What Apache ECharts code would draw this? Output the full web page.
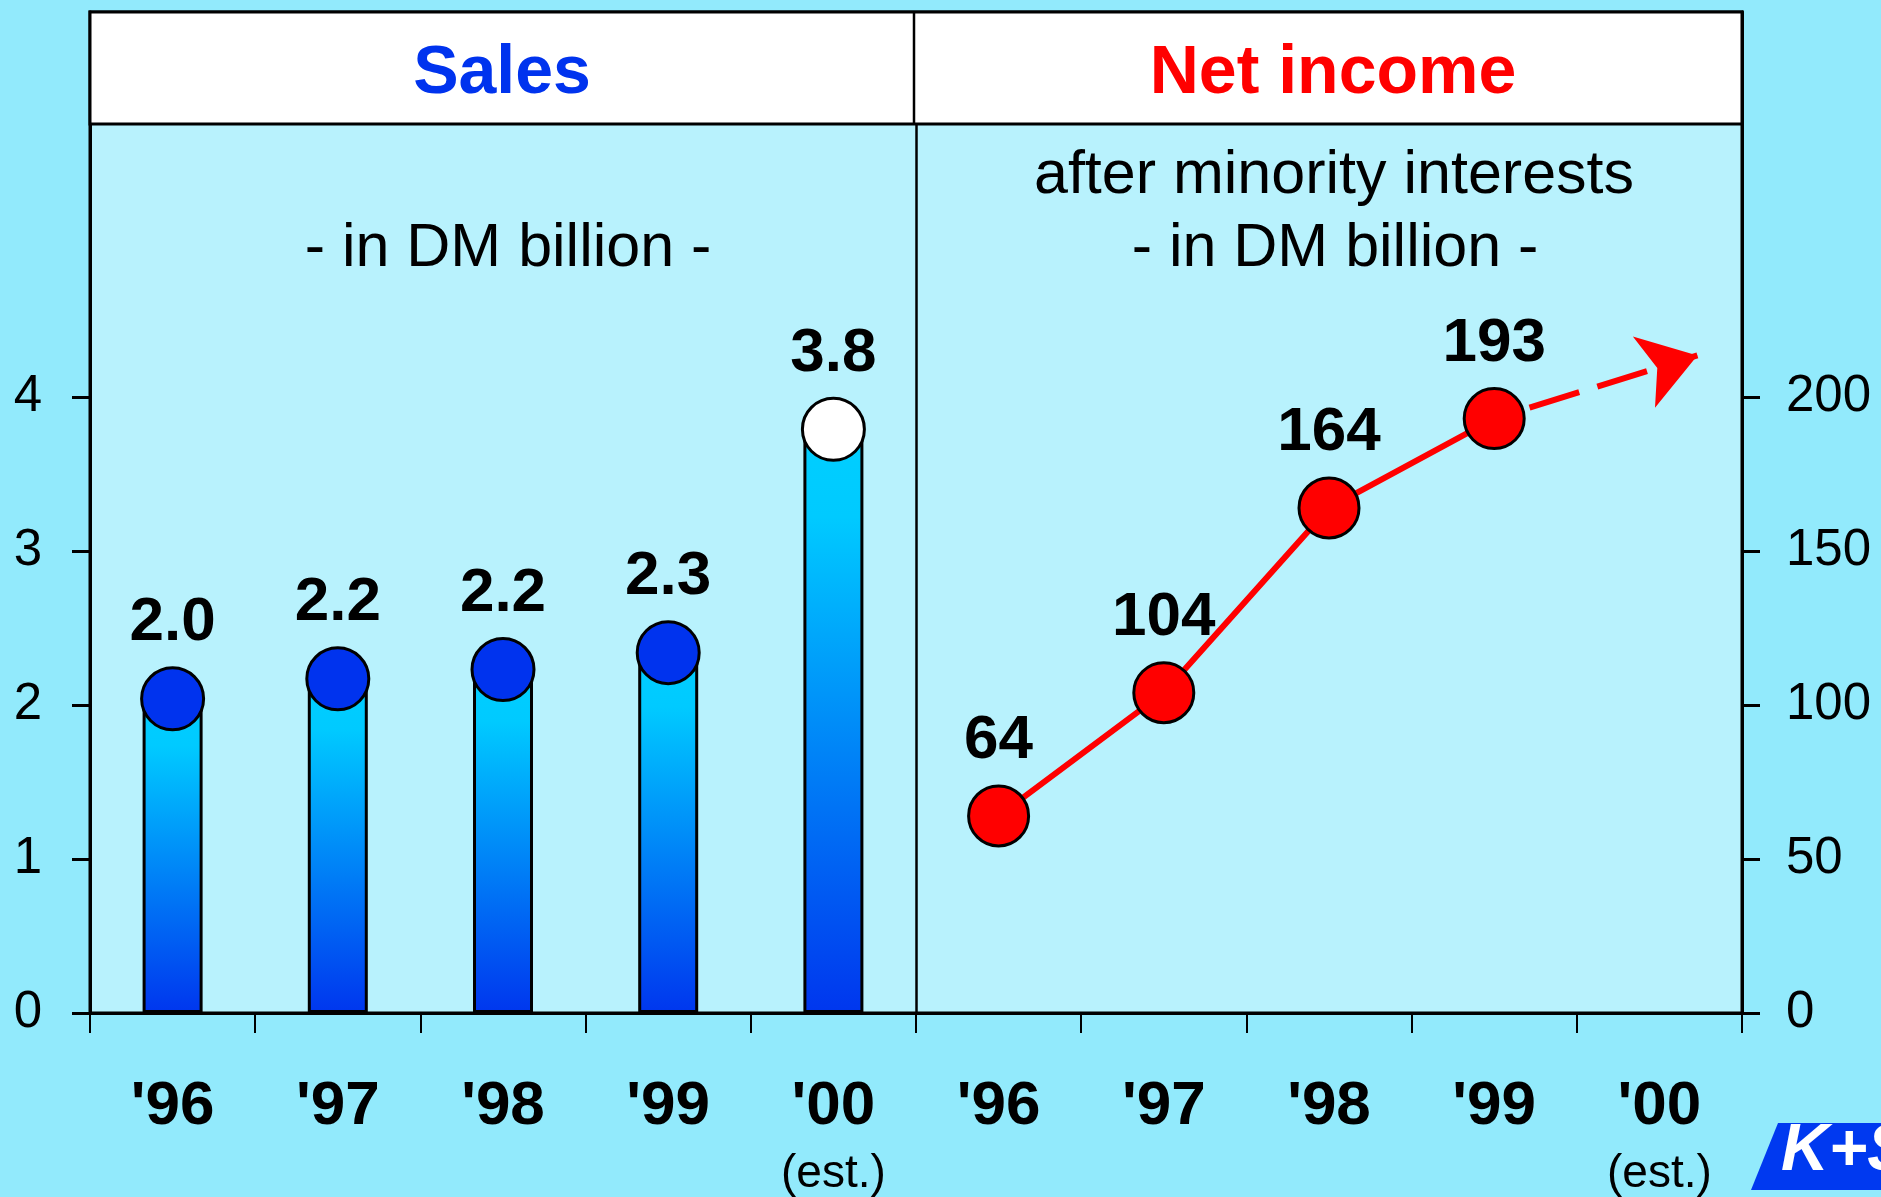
<!DOCTYPE html>
<html>
<head>
<meta charset="utf-8">
<title>Sales / Net income</title>
<script src="https://cdn.jsdelivr.net/npm/echarts@6/dist/echarts.min.js"></script>
<style>
  html, body { margin: 0; padding: 0; background: #92EAFC; }
  #chart { width: 1881px; height: 1197px; }
</style>
</head>
<body>
<div id="chart"></div>
<script>
// data
const years = ["'96", "'97", "'98", "'99", "'00"];
const estimateYear = "'00";
const salesValues = [2.04, 2.17, 2.23, 2.34, 3.79];   // DM billion
const incomeValues = [64, 104, 164, 193];             // net income, '96-'99
const incomeTrendEnd = [9.23, 213.5];                 // arrow tip ('00 estimate trend)
const salesTicks = [0, 1, 2, 3, 4];
const incomeTicks = [0, 50, 100, 150, 200];

// both panels share one category axis: 5 years sales + 5 years income
const categories = years.concat(years);
const empty = years.map(() => '-');
const salesData = salesValues.concat(empty);
const incomeData = empty.concat(incomeValues, ['-'].slice(0, years.length - incomeValues.length));
const lastIncome = [years.length + incomeValues.length - 1, incomeValues[incomeValues.length - 1]];
const panelSplit = years.length - 0.5;

const FONT = '"Liberation Sans", Arial, Helvetica, sans-serif';
const BLUE = '#0033EE';
const RED = '#FF0000';

let myChart = echarts.init(document.getElementById('chart'), null, { renderer: 'canvas' });

let option = {
  animation: false,
  backgroundColor: '#92EAFC',
  textStyle: { fontFamily: FONT },
  grid: {
    left: 90,
    right: 139,
    top: 12,
    bottom: 183,
    show: true,
    backgroundColor: '#B8F2FD',
    borderColor: '#000',
    borderWidth: 3
  },
  xAxis: [
    {
      type: 'category',
      data: categories,
      axisLine: { onZero: false, lineStyle: { color: '#000', width: 3 } },
      axisTick: { show: true, interval: 0, length: 20, lineStyle: { color: '#000', width: 2 } },
      axisLabel: {
        margin: 61,
        interval: 0,
        formatter: function (v) {
          return v === estimateYear ? '{b|' + v + '}\n{s|(est.)}' : '{b|' + v + '}'
        },
        rich: {
          b: { fontFamily: FONT, fontSize: 62, fontWeight: 'bold', color: '#000', lineHeight: 66 },
          s: { fontFamily: FONT, fontSize: 46, color: '#000', lineHeight: 68 }
        }
      }
    },
    {
      // hidden linear axis for the trend arrow and the panel divider
      type: 'value',
      min: -0.5,
      max: 9.5,
      show: false,
      axisLine: { onZero: false }
    }
  ],
  yAxis: [
    {
      type: 'value',
      position: 'left',
      min: 0,
      max: 6.5,
      interval: 1,
      splitLine: { show: false },
      axisLine: { show: true, onZero: false, lineStyle: { color: '#000', width: 3 } },
      axisTick: { show: true, length: 18, customValues: salesTicks, lineStyle: { color: '#000', width: 3 } },
      axisLabel: { margin: 48, customValues: salesTicks, fontSize: 51, color: '#000', fontFamily: FONT }
    },
    {
      type: 'value',
      position: 'right',
      min: 0,
      max: 325,
      interval: 50,
      splitLine: { show: false },
      axisLine: { show: true, onZero: false, lineStyle: { color: '#000', width: 3 } },
      axisTick: { show: true, length: 18, customValues: incomeTicks, lineStyle: { color: '#000', width: 3 } },
      axisLabel: { margin: 44, customValues: incomeTicks, fontSize: 51, color: '#000', fontFamily: FONT }
    }
  ],
  series: [
    {
      name: 'Sales',
      type: 'bar',
      xAxisIndex: 0,
      yAxisIndex: 0,
      barWidth: 60,
      silent: true,
      itemStyle: {
        color: new echarts.graphic.LinearGradient(0, 0, 0, 1, [
          { offset: 0, color: '#00CFFF' },
          { offset: 0.15, color: '#00CAFF' },
          { offset: 1, color: '#0036EE' }
        ]),
        borderColor: '#000',
        borderWidth: 3
      },
      data: salesData
    },
    {
      // caps on top of the bars
      name: 'Sales cap',
      type: 'scatter',
      xAxisIndex: 0,
      yAxisIndex: 0,
      symbol: 'circle',
      symbolSize: 62,
      silent: true,
      z: 3,
      itemStyle: {
        color: function (p) {
          return categories[p.dataIndex] === estimateYear ? '#FFFFFF' : BLUE
        },
        borderColor: '#000',
        borderWidth: 3,
        opacity: 1
      },
      label: {
        show: true,
        position: 'top',
        distance: 12,
        fontFamily: FONT,
        fontSize: 62,
        fontWeight: 'bold',
        color: '#000',
        formatter: function (p) { return p.value.toFixed(1) }
      },
      data: salesData
    },
    {
      name: 'Net income',
      type: 'line',
      xAxisIndex: 0,
      yAxisIndex: 1,
      symbol: 'circle',
      symbolSize: 60,
      silent: true,
      z: 4,
      lineStyle: { color: RED, width: 6 },
      itemStyle: { color: RED, borderColor: '#000', borderWidth: 3 },
      label: {
        show: true,
        position: 'top',
        distance: 12,
        fontFamily: FONT,
        fontSize: 62,
        fontWeight: 'bold',
        color: '#000'
      },
      data: incomeData
    },
    {
      // dashed trend arrow towards the '00 estimate
      name: 'Trend',
      type: 'line',
      xAxisIndex: 1,
      yAxisIndex: 1,
      z: 1,
      silent: true,
      data: [],
      markLine: {
        silent: true,
        symbol: ['none', 'arrow'],
        symbolSize: 56,
        label: { show: false },
        lineStyle: { color: RED, width: 6, type: [52, 19], dashOffset: 34 },
        itemStyle: { color: RED },
        emphasis: { disabled: true },
        data: [
          [{ coord: lastIncome }, { coord: incomeTrendEnd }]
        ]
      }
    },
    {
      // divider between the two panels
      name: 'Divider',
      type: 'line',
      xAxisIndex: 1,
      yAxisIndex: 1,
      z: 1,
      silent: true,
      data: [],
      markLine: {
        silent: true,
        symbol: ['none', 'none'],
        label: { show: false },
        lineStyle: { color: '#000', width: 2.5, type: 'solid' },
        emphasis: { disabled: true },
        data: [{ xAxis: panelSplit }]
      }
    }
  ],
  graphic: [
    // header boxes
    {
      type: 'rect',
      z: 100,
      shape: { x: 90, y: 12, width: 1652, height: 112 },
      style: { fill: '#FFFFFF', stroke: '#000', lineWidth: 3 }
    },
    {
      type: 'line',
      z: 101,
      shape: { x1: 914, y1: 12, x2: 914, y2: 124 },
      style: { stroke: '#000', lineWidth: 2.5 }
    },
    {
      type: 'text',
      z: 101,
      x: 502,
      y: 74,
      style: {
        text: 'Sales', font: 'bold 68px ' + FONT, fill: BLUE,
        align: 'center', verticalAlign: 'middle', textAlign: 'center', textVerticalAlign: 'middle'
      }
    },
    {
      type: 'text',
      z: 101,
      x: 1333,
      y: 74,
      style: {
        text: 'Net income', font: 'bold 68px ' + FONT, fill: RED,
        align: 'center', verticalAlign: 'middle', textAlign: 'center', textVerticalAlign: 'middle'
      }
    },
    // subtitles
    {
      type: 'text',
      z: 101,
      x: 508,
      y: 249,
      style: {
        text: '- in DM billion -', font: '61px ' + FONT, fill: '#000',
        align: 'center', verticalAlign: 'middle', textAlign: 'center', textVerticalAlign: 'middle'
      }
    },
    {
      type: 'text',
      z: 101,
      x: 1334,
      y: 176,
      style: {
        text: 'after minority interests', font: '61px ' + FONT, fill: '#000',
        align: 'center', verticalAlign: 'middle', textAlign: 'center', textVerticalAlign: 'middle'
      }
    },
    {
      type: 'text',
      z: 101,
      x: 1335,
      y: 249,
      style: {
        text: '- in DM billion -', font: '61px ' + FONT, fill: '#000',
        align: 'center', verticalAlign: 'middle', textAlign: 'center', textVerticalAlign: 'middle'
      }
    },
    // logo in the corner
    {
      type: 'polygon',
      z: 101,
      shape: { points: [[1751, 1190], [1778, 1123], [1881, 1123], [1881, 1190]] },
      style: { fill: '#0039F0' }
    },
    {
      type: 'text',
      z: 102,
      x: 1781,
      y: 1152,
      style: {
        text: 'K+S', font: 'italic bold 66px ' + FONT, fill: '#FFFFFF',
        align: 'left', verticalAlign: 'middle', textAlign: 'left', textVerticalAlign: 'middle'
      }
    }
  ]
}

myChart.setOption(option, true)
</script>
</body>
</html>
